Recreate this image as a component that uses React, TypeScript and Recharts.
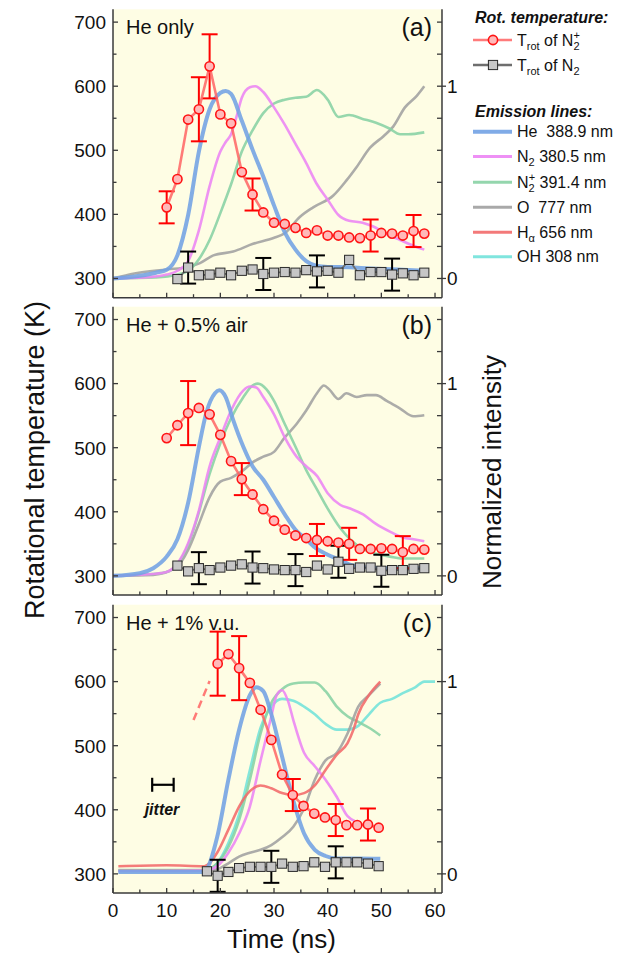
import React from 'react';
import { ComposedChart, Line, Scatter, XAxis, YAxis, ErrorBar, CartesianGrid } from 'recharts';

const FONT = '"Liberation Sans", Arial, Helvetica, sans-serif';
const BG = '#FEFDE4';
const AX = '#3a3a3a';

const C_HE = '#72A2E4';
const C_N2 = '#EC84F4';
const C_N2P = '#88D1A4';
const C_O = '#A0A0A0';
const C_HA = '#F26A6A';
const C_OH = '#72E2DA';
const C_TLINE = '#FF6464';

// ---------- shared axis ticks ----------
const X_DOMAIN: [number, number] = [0, 61.3];
const xTicks = [0, 5, 10, 15, 20, 25, 30, 35, 40, 45, 50, 55, 60];
const T_DOMAIN: [number, number] = [270, 720];
const tempTicks = [300, 350, 400, 450, 500, 550, 600, 650, 700];
// right axis: 300 K <-> 0, 600 K <-> 1
const I_DOMAIN: [number, number] = [(T_DOMAIN[0] - 300) / 300, (T_DOMAIN[1] - 300) / 300];
const intTicks = tempTicks.map((k) => (k - 300) / 300);

// ---------- panel (a): He only ----------
const tCircA = [10, 12, 14, 16, 18, 20, 22, 24, 26, 28, 30, 32, 34, 36, 38, 40, 42, 44, 46, 48, 50, 52, 54, 56, 58];
const trotN2pA = [411, 455, 548, 564, 631, 556, 542, 466, 431, 403, 387, 385, 379, 371, 375, 367, 367, 364, 363, 367, 371, 370, 367, 374, 370];
const errN2pA = [25, null, null, 50, 50, null, null, null, 25, null, null, null, null, null, null, null, null, null, null, 25, null, null, null, 25, null];
const tSqA = [12, 14, 16, 18, 20, 22, 24, 26, 28, 30, 32, 34, 36, 38, 40, 42, 44, 46, 48, 50, 52, 54, 56, 58];
const trotN2A = [299, 317, 305, 306, 309, 305, 312, 314, 307, 309, 310, 309, 313, 311, 312, 309, 329, 305, 310, 310, 306, 308, 305, 309];
const errN2A = [null, 25, null, null, null, null, null, null, 25, null, null, null, null, 25, null, null, null, null, null, null, 25, null, null, null];

const heA_t = [0, 4, 8, 10, 12, 14, 16, 18, 20, 21, 22, 24, 26, 28, 30, 32, 34, 36, 38, 40, 44, 48, 52, 58];
const heA_v = [0, 0.01, 0.03, 0.045, 0.12, 0.33, 0.66, 0.88, 0.965, 0.975, 0.96, 0.82, 0.67, 0.53, 0.38, 0.24, 0.15, 0.09, 0.065, 0.06, 0.058, 0.052, 0.048, 0.04];
const n2A_t = [0, 6, 10, 12, 14, 16, 18, 20, 21, 22, 23, 24, 25.5, 26.5, 28, 30, 32, 34, 36, 38, 40, 42, 44, 46.5, 48.5, 51, 53.5, 56, 58];
const n2A_v = [0, 0.005, 0.02, 0.04, 0.09, 0.25, 0.48, 0.66, 0.71, 0.75, 0.84, 0.94, 0.995, 1.0, 0.97, 0.89, 0.8, 0.7, 0.6, 0.49, 0.41, 0.33, 0.3, 0.29, 0.27, 0.23, 0.2, 0.17, 0.15];
const n2pA_t = [0, 8, 12, 14, 16, 18, 20, 22, 24, 26, 28, 30, 32, 34, 36, 38, 40, 42, 44, 46.5, 49, 51.5, 53.5, 55, 58];
const n2pA_v = [0, 0.005, 0.02, 0.04, 0.1, 0.2, 0.34, 0.49, 0.66, 0.77, 0.86, 0.91, 0.93, 0.94, 0.945, 0.98, 0.93, 0.84, 0.85, 0.83, 0.81, 0.78, 0.75, 0.75, 0.76];
const oA_t = [0, 4, 10, 14, 16.2, 18.7, 22.4, 26.1, 29.9, 32, 34.8, 37.3, 41, 43.5, 45.4, 47.9, 50.4, 52.2, 54.4, 56.6, 58];
const oA_v = [0, 0.026, 0.047, 0.06, 0.08, 0.12, 0.14, 0.18, 0.21, 0.235, 0.32, 0.37, 0.43, 0.51, 0.58, 0.68, 0.74, 0.79, 0.89, 0.95, 1.0];

// ---------- panel (b): He + 0.5% air ----------
const tCircB = [10, 12, 14, 16, 18, 20, 22, 24, 26, 28, 30, 32, 34, 36, 38, 40, 42, 44, 46, 48, 50, 52, 54, 56, 58];
const trotN2pB = [515, 535, 554, 562, 552, 520, 479, 451, 427, 404, 386, 372, 363, 359, 356, 354, 352, 350, 342, 342, 343, 342, 337, 342, 341];
const errN2pB = [null, null, 50, null, null, null, null, 25, null, null, null, null, null, null, 25, null, null, 25, null, null, null, null, 25, null, null];
const tSqB = [12, 14, 16, 18, 20, 22, 24, 26, 28, 30, 32, 34, 36, 38, 40, 42, 44, 46, 48, 50, 52, 54, 56, 58];
const trotN2B = [316, 307, 312, 309, 313, 316, 318, 313, 312, 310, 309, 309, 306, 316, 310, 322, 311, 313, 313, 308, 309, 309, 311, 312];
const errN2B = [null, null, 25, null, null, null, null, 25, null, null, null, 25, null, null, null, 25, null, null, null, 25, null, null, null, null];

const heB_t = [0, 5, 7.5, 10, 12, 14, 16, 17.4, 19, 19.8, 21, 22.4, 24.3, 26, 28, 30, 32, 34, 36, 38, 40, 42.3, 44, 47, 50, 58];
const heB_v = [0, 0.014, 0.04, 0.1, 0.19, 0.38, 0.67, 0.85, 0.95, 0.965, 0.93, 0.81, 0.67, 0.57, 0.5, 0.41, 0.32, 0.24, 0.19, 0.14, 0.11, 0.083, 0.06, 0.045, 0.04, 0.04];
const n2B_t = [0, 7.5, 10, 12, 14, 16, 18, 20, 22, 24.3, 25.5, 26.7, 28, 30, 32, 34.2, 36, 38, 40, 42.3, 44.2, 46.6, 49, 51.6, 54, 56, 58];
const n2B_v = [0, 0.01, 0.02, 0.065, 0.17, 0.34, 0.57, 0.72, 0.86, 0.965, 0.985, 0.98, 0.93, 0.84, 0.72, 0.62, 0.57, 0.52, 0.43, 0.37, 0.35, 0.32, 0.27, 0.23, 0.2, 0.19, 0.18];
const n2pB_t = [0, 7.5, 10, 12, 14, 16, 18, 20, 22, 24.3, 26, 27, 28.6, 30, 32, 34.2, 36, 38, 40, 42.3, 44.2, 46.6, 49, 51.6, 54, 58];
const n2pB_v = [0, 0.01, 0.02, 0.06, 0.16, 0.33, 0.53, 0.69, 0.82, 0.93, 0.99, 1.0, 0.97, 0.91, 0.79, 0.66, 0.55, 0.45, 0.35, 0.25, 0.19, 0.14, 0.115, 0.1, 0.09, 0.09];
const oB_t = [0, 7.5, 12, 14, 16, 18, 20, 22, 24.3, 26, 28, 30, 32, 34.2, 36, 38, 39.3, 40.3, 42, 43.5, 45.4, 47.3, 49, 51, 53.5, 56, 58];
const oB_v = [0, 0.005, 0.05, 0.135, 0.27, 0.41, 0.49, 0.51, 0.55, 0.59, 0.62, 0.645, 0.72, 0.79, 0.86, 0.95, 0.99, 0.97, 0.92, 0.95, 0.93, 0.94, 0.94, 0.91, 0.87, 0.83, 0.835];

// ---------- panel (c): He + 1% v.u. ----------
const tCircC = [19.5, 21.5, 23.5, 25.5, 27.5, 29.5, 31.5, 33.5, 35.5, 37.5, 39.5, 41.5, 43.5, 45.5, 47.5, 49.5];
const trotN2pC = [628, 643, 621, 598, 556, 509, 455, 423, 406, 394, 388, 384, 376, 376, 377, 372];
const errN2pC = [50, null, 50, null, null, null, null, 25, null, null, null, 25, null, null, 25, null];
const tSqC = [17.5, 19.5, 21.5, 23.5, 25.5, 27.5, 29.5, 31.5, 33.5, 35.5, 37.5, 39.5, 41.5, 43.5, 45.5, 47.5, 49.5];
const trotN2C = [304, 297, 303, 309, 311, 311, 311, 316, 311, 312, 318, 311, 318, 318, 318, 316, 312];
const errN2C = [null, 25, null, null, null, null, 25, null, null, null, null, null, 25, null, null, null, null];
const guideC_t = [15, 18];
const guideC_v = [540, 601];
const jitterCenter = [9.3];
const jitterTemp = [439];
const jitterHalf = [2];

const heC_t = [1, 10, 16.8, 17.4, 19.4, 21.5, 23.5, 25.5, 26.7, 28, 29.5, 31.5, 33.6, 35.6, 37.6, 39.6, 41.7, 45.7, 49.8];
const heC_v = [0.01, 0.01, 0.01, 0.02, 0.19, 0.49, 0.75, 0.93, 0.97, 0.95, 0.83, 0.61, 0.38, 0.21, 0.125, 0.093, 0.08, 0.08, 0.078];
const n2C_t = [1, 10, 17, 19.4, 21.5, 23.5, 25.5, 27.5, 29.5, 30.5, 31.5, 32.6, 33.6, 35.6, 37.6, 39.6, 41.7, 43.7, 45];
const n2C_v = [0.015, 0.015, 0.017, 0.04, 0.11, 0.21, 0.35, 0.59, 0.82, 0.93, 0.955, 0.9, 0.8, 0.63, 0.56, 0.49, 0.4, 0.3, 0.275];
const n2pC_t = [1, 10, 17, 19.4, 21.5, 23.5, 25.5, 27.5, 29.5, 31.5, 33.6, 35.6, 37.6, 39.6, 41.7, 43.7, 45.7, 47.7, 49.8];
const n2pC_v = [0.02, 0.02, 0.02, 0.055, 0.14, 0.28, 0.49, 0.73, 0.89, 0.96, 0.99, 0.995, 0.995, 0.95, 0.87, 0.82, 0.79, 0.76, 0.72];
const ohC_t = [1, 10, 17, 19.4, 21.5, 23.5, 25.5, 27.5, 29.5, 31.5, 33.6, 35.6, 37.6, 39.6, 41.7, 43.7, 45.7, 47.7, 49.8, 52, 54, 56.3, 58, 60];
const ohC_v = [0.015, 0.015, 0.015, 0.055, 0.16, 0.31, 0.54, 0.76, 0.87, 0.91, 0.9, 0.87, 0.83, 0.78, 0.75, 0.75, 0.77, 0.83, 0.89, 0.91, 0.94, 0.97, 1.0, 1.0];
const haC_t = [1, 10, 17, 19.4, 21.5, 23.5, 25.5, 27.5, 29.5, 31.5, 33.6, 35.6, 37.6, 39.6, 41.7, 43.7, 44.8, 45.7, 47.7, 49.8];
const haC_v = [0.04, 0.045, 0.04, 0.11, 0.23, 0.35, 0.43, 0.46, 0.445, 0.42, 0.41, 0.42, 0.46, 0.54, 0.62, 0.68, 0.75, 0.83, 0.93, 1.0];
const oC_t = [1, 10, 17, 19.4, 21.5, 23.5, 25.5, 27.5, 29.5, 31.5, 33.6, 35.6, 37.6, 39.6, 41.7, 43.7, 45.7, 47.7, 49.8];
const oC_v = [0.017, 0.017, 0.017, 0.024, 0.055, 0.09, 0.11, 0.125, 0.15, 0.19, 0.245, 0.34, 0.49, 0.59, 0.63, 0.73, 0.87, 0.93, 0.99];

type Pt = { t: number; v: number; e?: number };
const pts = (t: number[], v: number[], e?: (number | null)[]): Pt[] =>
  t.map((x, i) => {
    const p: Pt = { t: x, v: v[i] };
    if (e && e[i] != null) p.e = e[i] as number;
    return p;
  });

type LineCfg = { id: string; color: string; width: number; data: Pt[] };

const PLOT_H = 288.4;
const LEFT_W = 113;
const RIGHT_W = 194;
const CHART_W = 636;
const BOTTOM_SPACE = 60;

type PanelCfg = {
  key: string;
  top: number;
  lines: LineCfg[];
  circles: Pt[];
  squares: Pt[];
  guide?: Pt[];
  jitter?: { t: number; v: number; ex: number }[];
  showX: boolean;
};

const panels: PanelCfg[] = [
  {
    key: 'a',
    top: 9.3,
    showX: false,
    lines: [
      { id: 'o', color: C_O, width: 2.6, data: pts(oA_t, oA_v) },
      { id: 'n2p', color: C_N2P, width: 2.6, data: pts(n2pA_t, n2pA_v) },
      { id: 'n2', color: C_N2, width: 2.6, data: pts(n2A_t, n2A_v) },
      { id: 'he', color: C_HE, width: 4, data: pts(heA_t, heA_v) },
    ],
    circles: pts(tCircA, trotN2pA, errN2pA),
    squares: pts(tSqA, trotN2A, errN2A),
  },
  {
    key: 'b',
    top: 306.7,
    showX: false,
    lines: [
      { id: 'o', color: C_O, width: 2.6, data: pts(oB_t, oB_v) },
      { id: 'n2p', color: C_N2P, width: 2.6, data: pts(n2pB_t, n2pB_v) },
      { id: 'n2', color: C_N2, width: 2.6, data: pts(n2B_t, n2B_v) },
      { id: 'he', color: C_HE, width: 4, data: pts(heB_t, heB_v) },
    ],
    circles: pts(tCircB, trotN2pB, errN2pB),
    squares: pts(tSqB, trotN2B, errN2B),
  },
  {
    key: 'c',
    top: 604.7,
    showX: true,
    lines: [
      { id: 'oh', color: C_OH, width: 2.6, data: pts(ohC_t, ohC_v) },
      { id: 'n2p', color: C_N2P, width: 2.6, data: pts(n2pC_t, n2pC_v) },
      { id: 'o', color: C_O, width: 2.6, data: pts(oC_t, oC_v) },
      { id: 'n2', color: C_N2, width: 2.6, data: pts(n2C_t, n2C_v) },
      { id: 'ha', color: C_HA, width: 2.6, data: pts(haC_t, haC_v) },
      { id: 'he', color: C_HE, width: 4, data: pts(heC_t, heC_v) },
    ],
    circles: pts(tCircC, trotN2pC, errN2pC),
    squares: pts(tSqC, trotN2C, errN2C),
    guide: pts(guideC_t, guideC_v),
    jitter: jitterCenter.map((t, i) => ({ t, v: jitterTemp[i], ex: jitterHalf[i] })),
  },
];

// ---------- tick renderers ----------
const LeftTick = (props: any) => {
  const { x, y, payload } = props;
  const v = payload.value;
  const major = Math.round(v) % 100 === 0;
  return (
    <g>
      <line x1={x} x2={x + (major ? 5 : 3.5)} y1={y} y2={y} stroke={AX} strokeWidth={1.3} />
      {major && (
        <text x={x - 7} y={y} dy="0.36em" textAnchor="end" fontSize={19} fontFamily={FONT} fill="#111">
          {v}
        </text>
      )}
    </g>
  );
};

const RightTick = (props: any) => {
  const { x, y, payload } = props;
  const v = payload.value;
  const isZero = Math.abs(v) < 1e-6;
  const isOne = Math.abs(v - 1) < 1e-6;
  const major = isZero || isOne;
  return (
    <g>
      <line x1={x - 5} x2={major ? x + 4 : x} y1={y} y2={y} stroke={AX} strokeWidth={1.3} />
      {major && (
        <text x={x + 5} y={y} dy="0.36em" textAnchor="start" fontSize={19} fontFamily={FONT} fill="#111">
          {isZero ? '0' : '1'}
        </text>
      )}
    </g>
  );
};

const makeBottomTick = (showLabels: boolean) => (props: any) => {
  const { x, y, payload } = props;
  const v = payload.value;
  const major = v % 10 === 0;
  return (
    <g>
      <line x1={x} x2={x} y1={y} y2={y - (major ? 5 : 3.5)} stroke={AX} strokeWidth={1.3} />
      {showLabels && major && (
        <text x={x} y={y + 23.5} textAnchor="middle" fontSize={19} fontFamily={FONT} fill="#111">
          {v}
        </text>
      )}
    </g>
  );
};

const TopTick = (props: any) => {
  const { x, y, payload } = props;
  const major = payload.value % 10 === 0;
  return <line x1={x} x2={x} y1={y} y2={y + (major ? 5 : 3.5)} stroke={AX} strokeWidth={1.3} />;
};

const circleDot = (p: any) => {
  if (p.cx == null || p.cy == null) return <g key={`cn-${p.index}`} />;
  return <circle key={`c-${p.index}`} cx={p.cx} cy={p.cy} r={4.6} fill="#FFB9B9" stroke="#FF1414" strokeWidth={1.6} />;
};

const squareDot = (p: any) => {
  if (p.cx == null || p.cy == null) return <g key={`sn-${p.index}`} />;
  return (
    <rect key={`s-${p.index}`} x={p.cx - 4.6} y={p.cy - 4.6} width={9.2} height={9.2} fill="#C6C6C6" stroke="#2a2a2a" strokeWidth={1} />
  );
};

const axisLineStyle = { stroke: AX, strokeWidth: 1.5 };

function Panel({ cfg }: { cfg: PanelCfg }) {
  const H = cfg.top + PLOT_H + BOTTOM_SPACE;
  return (
    <div style={{ position: 'absolute', left: 0, top: 0 }}>
      <ComposedChart width={CHART_W} height={H} margin={{ top: cfg.top, right: 0, bottom: 0, left: 0 }}>
        <CartesianGrid fill={BG} stroke="none" horizontal={false} vertical={false} />
        <XAxis
          dataKey="t"
          type="number"
          domain={X_DOMAIN}
          ticks={xTicks}
          interval={0}
          allowDataOverflow
          height={BOTTOM_SPACE}
          tickLine={false}
          tickSize={0}
          tickMargin={0}
          axisLine={axisLineStyle}
          tick={makeBottomTick(cfg.showX)}
        />
        <XAxis
          xAxisId="top"
          orientation="top"
          type="number"
          domain={X_DOMAIN}
          ticks={xTicks}
          interval={0}
          allowDataOverflow
          height={0}
          tickLine={false}
          tickSize={0}
          tickMargin={0}
          axisLine={axisLineStyle}
          tick={TopTick}
        />
        <YAxis
          dataKey="v"
          type="number"
          domain={T_DOMAIN}
          ticks={tempTicks}
          interval={0}
          allowDataOverflow
          width={LEFT_W}
          tickLine={false}
          tickSize={0}
          tickMargin={0}
          axisLine={axisLineStyle}
          tick={LeftTick}
        />
        <YAxis
          yAxisId="int"
          orientation="right"
          type="number"
          domain={I_DOMAIN}
          ticks={intTicks}
          interval={0}
          allowDataOverflow
          width={RIGHT_W}
          tickLine={false}
          tickSize={0}
          tickMargin={0}
          axisLine={axisLineStyle}
          tick={RightTick}
        />
        {cfg.lines.map((l) => (
          <Line
            key={l.id}
            data={l.data}
            dataKey="v"
            yAxisId="int"
            type="monotone"
            stroke={l.color}
            strokeWidth={l.width}
            strokeOpacity={0.88}
            dot={false}
            activeDot={false}
            isAnimationActive={false}
          />
        ))}
        {cfg.guide && (
          <Line
            data={cfg.guide}
            dataKey="v"
            type="linear"
            stroke={C_TLINE}
            strokeWidth={2.5}
            strokeDasharray="8 5"
            strokeOpacity={0.85}
            dot={false}
            activeDot={false}
            isAnimationActive={false}
          />
        )}
        <Line
          data={cfg.squares}
          dataKey="v"
          type="linear"
          stroke="#6E6E6E"
          strokeWidth={1.8}
          dot={squareDot}
          activeDot={false}
          isAnimationActive={false}
        >
          <ErrorBar dataKey="e" direction="y" width={8} stroke="#000" strokeWidth={2} />
        </Line>
        <Line
          data={cfg.circles}
          dataKey="v"
          type="linear"
          stroke={C_TLINE}
          strokeWidth={2.6}
          strokeOpacity={0.85}
          dot={circleDot}
          activeDot={false}
          isAnimationActive={false}
        >
          <ErrorBar dataKey="e" direction="y" width={8} stroke="#FF0000" strokeWidth={2} />
        </Line>
        {cfg.jitter && (
          <Scatter data={cfg.jitter} dataKey="v" shape={() => <g />} isAnimationActive={false}>
            <ErrorBar dataKey="ex" direction="x" width={7} stroke="#000" strokeWidth={2.2} />
          </Scatter>
        )}
      </ComposedChart>
    </div>
  );
}

// ---------- legend + text ----------
const legendLines = [
  { y: 131.7, color: C_HE, w: 4, label: 'he' },
  { y: 156.5, color: C_N2, w: 3, label: 'n2' },
  { y: 182.3, color: C_N2P, w: 3, label: 'n2p' },
  { y: 207.3, color: C_O, w: 3, label: 'o' },
  { y: 232.3, color: C_HA, w: 3, label: 'ha' },
  { y: 256.7, color: C_OH, w: 3, label: 'oh' },
];

const SUB = 11;

function LegendText({ id, x, y }: { id: string; x: number; y: number }) {
  const common = { x, y, fontSize: 16, fontFamily: FONT, fill: '#111', style: { whiteSpace: 'pre' as const } };
  switch (id) {
    case 'he':
      return <text {...common}>{'He  388.9 nm'}</text>;
    case 'n2':
      return (
        <text {...common}>
          N<tspan fontSize={SUB} dy={4}>2</tspan>
          <tspan dy={-4}>{' 380.5 nm'}</tspan>
        </text>
      );
    case 'n2p':
      return (
        <text {...common}>
          N<tspan fontSize={SUB} dy={4}>2</tspan>
          <tspan fontSize={SUB} dx={-6} dy={-11}>+</tspan>
          <tspan dy={7}>{' 391.4 nm'}</tspan>
        </text>
      );
    case 'o':
      return <text {...common}>{'O  777 nm'}</text>;
    case 'ha':
      return (
        <text {...common}>
          H<tspan fontSize={SUB} dy={4}>α</tspan>
          <tspan dy={-4}>{' 656 nm'}</tspan>
        </text>
      );
    default:
      return <text {...common}>{'OH 308 nm'}</text>;
  }
}

function Overlay() {
  const lx1 = 473;
  const lx2 = 512;
  const tx = 517;
  return (
    <svg width={636} height={956} style={{ position: 'absolute', left: 0, top: 0, pointerEvents: 'none' }}>
      <g fontFamily={FONT} fill="#111">
        {/* panel captions */}
        <text x={126} y={34} fontSize={20}>He only</text>
        <text x={432} y={36} fontSize={25} textAnchor="end">(a)</text>
        <text x={126} y={332} fontSize={20}>He + 0.5% air</text>
        <text x={432} y={334} fontSize={25} textAnchor="end">(b)</text>
        <text x={126} y={630} fontSize={20}>He + 1% v.u.</text>
        <text x={432} y={632} fontSize={25} textAnchor="end">(c)</text>
        <text x={162} y={815} fontSize={16} fontWeight="bold" fontStyle="italic" textAnchor="middle">jitter</text>

        {/* axis titles */}
        <text x={0} y={0} fontSize={27} textAnchor="middle" transform="translate(44 460) rotate(-90)">
          Rotational temperature (K)
        </text>
        <text x={0} y={0} fontSize={26} textAnchor="middle" transform="translate(501 472) rotate(-90)">
          Normalized intensity
        </text>
        <text x={281.5} y={948} fontSize={26} textAnchor="middle">Time (ns)</text>

        {/* legend */}
        <text x={475} y={22.5} fontSize={16} fontWeight="bold" fontStyle="italic">Rot. temperature:</text>
        <line x1={lx1} x2={lx2} y1={40} y2={40} stroke={C_TLINE} strokeWidth={2.6} strokeOpacity={0.85} />
        <circle cx={493} cy={40} r={4.6} fill="#FFB9B9" stroke="#FF1414" strokeWidth={1.6} />
        <text x={tx} y={46} fontSize={16} style={{ whiteSpace: 'pre' }}>
          T<tspan fontSize={SUB} dy={4}>rot</tspan>
          <tspan dy={-4}>{' of N'}</tspan>
          <tspan fontSize={SUB} dy={4}>2</tspan>
          <tspan fontSize={SUB} dx={-6} dy={-11}>+</tspan>
        </text>
        <line x1={lx1} x2={lx2} y1={65} y2={65} stroke="#6E6E6E" strokeWidth={2.4} />
        <rect x={488.4} y={60.4} width={9.2} height={9.2} fill="#C6C6C6" stroke="#2a2a2a" strokeWidth={1} />
        <text x={tx} y={71} fontSize={16} style={{ whiteSpace: 'pre' }}>
          T<tspan fontSize={SUB} dy={4}>rot</tspan>
          <tspan dy={-4}>{' of N'}</tspan>
          <tspan fontSize={SUB} dy={4}>2</tspan>
        </text>

        <text x={475} y={116.5} fontSize={16} fontWeight="bold" fontStyle="italic">Emission lines:</text>
        {legendLines.map((r) => (
          <g key={r.label}>
            <line x1={lx1} x2={lx2} y1={r.y} y2={r.y} stroke={r.color} strokeWidth={r.w} strokeOpacity={0.9} />
            <LegendText id={r.label} x={tx} y={r.y + 5.5} />
          </g>
        ))}
      </g>
    </svg>
  );
}

export default function App() {
  return (
    <div style={{ position: 'absolute', left: 0, top: 0, width: 636, height: 956, background: '#fff', overflow: 'hidden' }}>
      {panels.map((p) => (
        <Panel key={p.key} cfg={p} />
      ))}
      <Overlay />
    </div>
  );
}
